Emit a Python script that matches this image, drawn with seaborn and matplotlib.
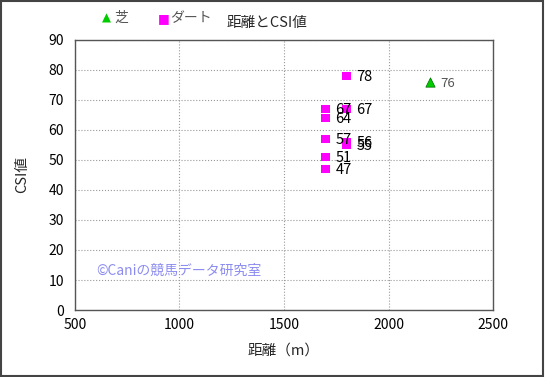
import matplotlib
matplotlib.use('Agg')
import matplotlib.pyplot as plt
import seaborn as sns
import pandas as pd

# データ
dart_dist = [1700, 1700, 1700, 1700, 1700, 1800, 1800, 1800, 1800]
dart_csi = [67, 64, 57, 51, 47, 78, 67, 56, 55]
turf_dist = [2200]
turf_csi = [76]

df_dart = pd.DataFrame({'dist': dart_dist, 'csi': dart_csi})
df_turf = pd.DataFrame({'dist': turf_dist, 'csi': turf_csi})

sns.set_style('white')
plt.rcParams['font.family'] = ['Noto Sans CJK JP', 'DejaVu Sans']

fig = plt.figure(figsize=(5.45, 3.77), dpi=100)
ax = fig.add_axes([0.1376, 0.1777, 0.767, 0.7163])

sns.scatterplot(data=df_turf, x='dist', y='csi', marker='^', color='#00cc00',
                edgecolor='#006600', linewidth=0.5, s=45, ax=ax, zorder=3)
sns.scatterplot(data=df_dart, x='dist', y='csi', marker='s', color='#ff00ff',
                edgecolor='none', s=40, ax=ax, zorder=3)

for x, y in zip(dart_dist, dart_csi):
    ax.annotate(str(y), (x, y), xytext=(7, -1), textcoords='offset points',
                va='center', ha='left', fontsize=10.5, color='black')
for x, y in zip(turf_dist, turf_csi):
    ax.annotate(str(y), (x, y), xytext=(7, -1), textcoords='offset points',
                va='center', ha='left', fontsize=9.5, color='#555555')

ax.set_xlim(500, 2500)
ax.set_ylim(0, 90)
ax.set_xticks(range(500, 2501, 500))
ax.set_yticks(range(0, 91, 10))
ax.grid(True, linestyle=':', color='#999999', linewidth=0.8)
for sp in ax.spines.values():
    sp.set_color('#555555')
    sp.set_linewidth(1)
ax.tick_params(labelsize=10, colors='black', length=3, direction='in')
ax.tick_params(axis='y', pad=8)
ax.tick_params(axis='x', pad=6)
ax.set_xlabel('距離（m）', fontsize=10.5, labelpad=8)
ax.set_ylabel('CSI値', fontsize=10.5, labelpad=14)

ax.text(600, 13, '©Caniの競馬データ研究室', fontsize=10, color='#8c8cf0', va='center')

fig.text(0.49, 0.94, '距離とCSI値', fontsize=10.5, ha='center', va='center')
fig.text(0.188, 0.952, '▲', fontsize=8.5, color='#00cc00', ha='left', va='center', family=['DejaVu Sans'])
fig.text(0.209, 0.952, '芝', fontsize=10, color='#555555', ha='left', va='center')
fig.text(0.29, 0.952, '■', fontsize=9, color='#ff00ff', ha='left', va='center', family=['DejaVu Sans'])
fig.text(0.313, 0.952, 'ダート', fontsize=10, color='#555555', ha='left', va='center')

fig.patches.append(plt.Rectangle((0.002, 0.003), 0.995, 0.994, transform=fig.transFigure,
                                 fill=False, edgecolor='#444444', linewidth=1.5))

plt.savefig('out.png', dpi=100)
